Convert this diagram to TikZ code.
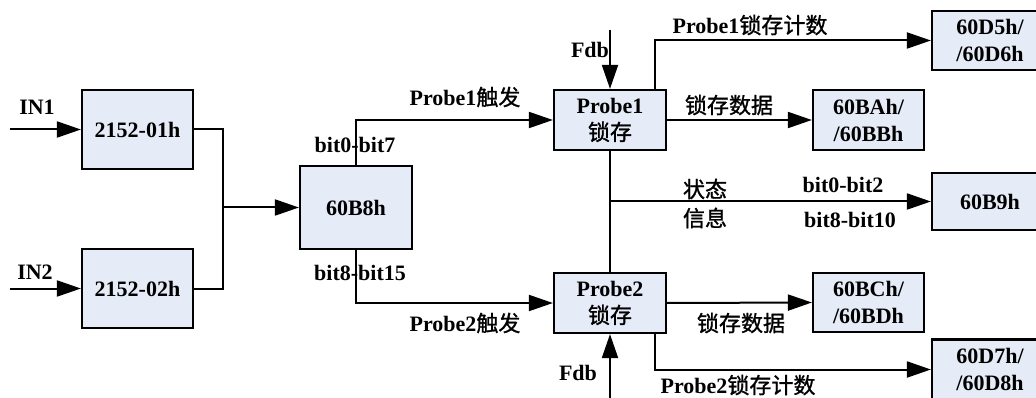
\documentclass[tikz,border=0pt]{standalone}
\usepackage{fontspec}
\setmainfont{Liberation Serif}
\newfontfamily\cjk{Noto Sans CJK SC}[FakeBold=1.2]
\usetikzlibrary{arrows.meta}
\definecolor{boxfill}{RGB}{230,236,247}
\newcommand{\zh}[1]{{\cjk\mdseries #1}}
\begin{document}
\begin{tikzpicture}[x=1pt,y=-1pt,
  box/.style={draw, line width=2.2pt, fill=boxfill, inner sep=0pt, align=center,
    font=\fontsize{22}{27}\selectfont\bfseries},
  lbl/.style={inner sep=0pt, font=\fontsize{22}{27}\selectfont\bfseries},
  wire/.style={line width=2pt},
  arr/.style={wire, -{Triangle[length=24pt,width=16pt]}}]
\useasboundingbox (0,0) rectangle (1036,398);
% boxes
\node[box, minimum width=111pt, minimum height=79pt] (b1) at (137.5,129.5) {2152-01h};
\node[box, minimum width=111pt, minimum height=79pt] (b2) at (137.5,288.5) {2152-02h};
\node[box, minimum width=112pt, minimum height=83pt] (b3) at (356,207.5) {60B8h};
\node[box, minimum width=112pt, minimum height=60pt] (p1) at (610,120) {Probe1\\\zh{锁存}};
\node[box, minimum width=112pt, minimum height=60pt] (p2) at (610,303) {Probe2\\\zh{锁存}};
\node[box, minimum width=116pt, minimum height=59pt] (r1) at (990,40.5) {60D5h/\\/60D6h};
\node[box, minimum width=111pt, minimum height=60pt] (r2) at (868.5,120) {60BAh/\\/60BBh};
\node[box, minimum width=116pt, minimum height=57pt] (r3) at (990,201.5) {60B9h};
\node[box, minimum width=111pt, minimum height=59pt] (r4) at (868.5,302.5) {60BCh/\\/60BDh};
\node[box, minimum width=116pt, minimum height=60pt] (r5) at (990,369.5) {60D7h/\\/60D8h};
% coordinates
\coordinate (in1) at (10,129.5);
\coordinate (in2) at (10,288.5);
\coordinate (j) at (223,207.5);
\coordinate (fdb1) at (610,30);
\coordinate (fdb2) at (610,400);
\coordinate (st) at (610,201.5);
% connectors
\draw[arr] (in1) -- (b1.west);
\draw[arr] (in2) -- (b2.west);
\draw[wire] (b1.east) -| (j);
\draw[wire] (b2.east) -| (j);
\draw[arr] (j) -- (b3.west);
\draw[arr] (b3.north) |- (p1.west);
\draw[arr] (b3.south) |- (p2.west);
\draw[arr] (fdb1) -- (p1.north);
\draw[arr] (fdb2) -- (p2.south);
\draw[arr] ([xshift=-12pt]p1.north east) |- (r1.west);
\draw[arr] (p1.east) -- (r2.west);
\draw[wire] (p1.south) -- (p2.north);
\draw[arr] (st) -- (r3.west);
\draw[arr] (p2.east) -- (r4.west);
\draw[arr] ([xshift=-12pt]p2.south east) |- (r5.west);
% labels
\node[lbl] (lin1) at (37,107) {IN1};
\node[lbl] (lin2) at (35,272) {IN2};
\node[lbl] (lt1) at (465,97) {Probe1\zh{触发}};
\node[lbl] (lt2) at (465,323) {Probe2\zh{触发}};
\node[lbl] (lb1) at (355,145) {bit0-bit7};
\node[lbl] (lb2) at (360,273) {bit8-bit15};
\node[lbl] (lf1) at (590,50) {Fdb};
\node[lbl] (lf2) at (578,373) {Fdb};
\node[lbl] (lc1) at (750,25) {Probe1\zh{锁存计数}};
\node[lbl] (ld1) at (729,105) {\zh{锁存数据}};
\node[lbl] (ls1) at (705,189) {\zh{状态}};
\node[lbl] (ls2) at (705,218) {\zh{信息}};
\node[lbl] (lb3) at (843,185) {bit0-bit2};
\node[lbl] (lb4) at (850,220) {bit8-bit10};
\node[lbl] (ld2) at (741,323) {\zh{锁存数据}};
\node[lbl] (lc2) at (738,385) {Probe2\zh{锁存计数}};
\end{tikzpicture}
\end{document}
